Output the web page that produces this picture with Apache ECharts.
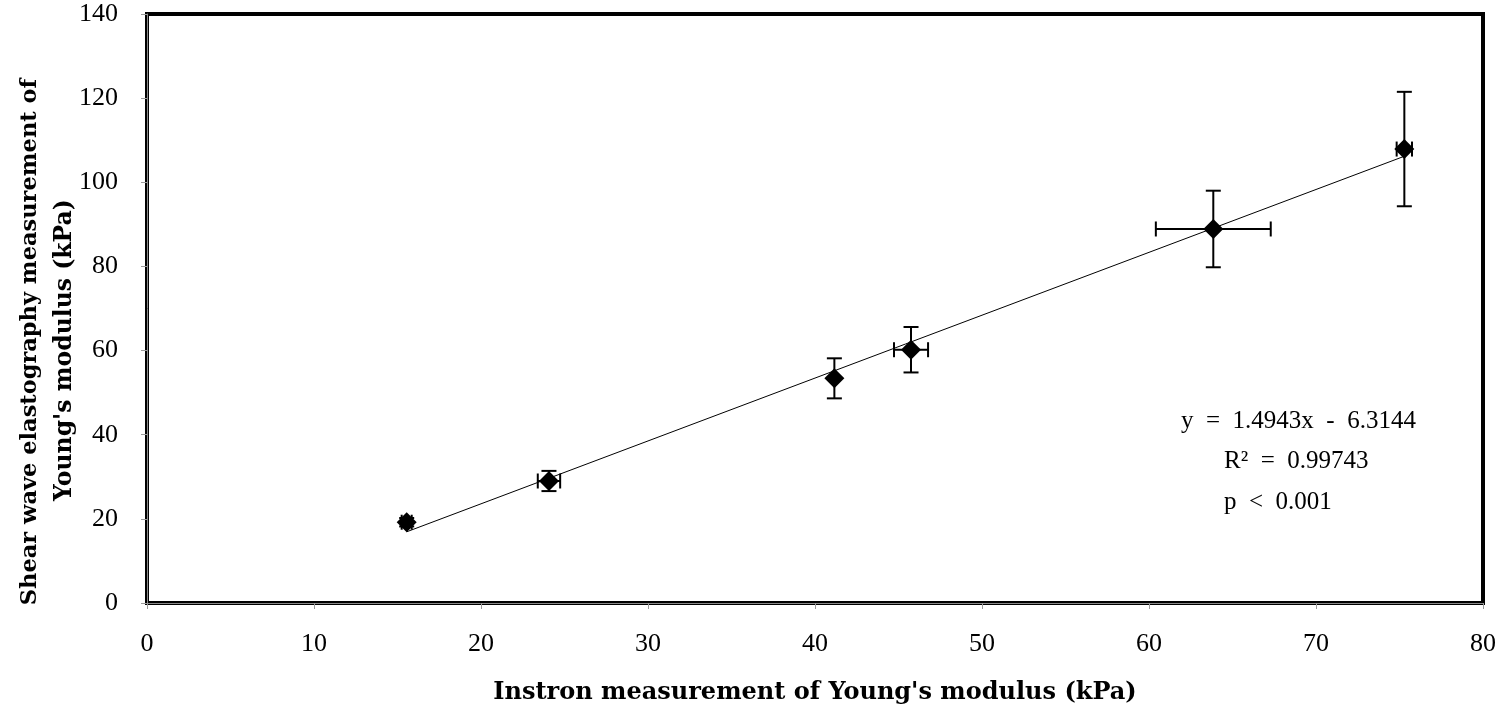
<!DOCTYPE html>
<html>
<head>
<meta charset="utf-8">
<script src="https://cdn.jsdelivr.net/npm/echarts@6/dist/echarts.min.js"></script>
<style>html,body{margin:0;padding:0;background:#fff;}#c{width:1502px;height:709px;}</style>
</head>
<body>
<div id="c"></div>
<script>
// Data
const xValues = [15.55, 24.07, 41.16, 45.75, 63.85, 75.29];
const yValues = [19.2, 29.0, 53.4, 60.2, 88.9, 107.9];
const xErr = [0.3, 0.67, 0, 1.02, 3.44, 0.46];
const yErr = [1.0, 2.4, 4.76, 5.4, 9.1, 13.6];
const slope = 1.4943, intercept = -6.3144;
const xTicks = [0, 10, 20, 30, 40, 50, 60, 70, 80];
const yTicks = [0, 20, 40, 60, 80, 100, 120, 140];
const annotation = ['y\u2002=\u20021.4943x\u2002-\u20026.3144', 'R²\u2002=\u20020.99743', 'p\u2002<\u20020.001'];
const xTitle = "Instron measurement of Young's modulus (kPa)";
const yTitle1 = 'Shear wave elastography measurement of';
const yTitle2 = "Young's modulus (kPa)";

const points = xValues.map((x, i) => [x, yValues[i]]);
const errData = xValues.map((x, i) => [x, yValues[i], xErr[i], yErr[i]]);
const xMin = Math.min(...xValues), xMax = Math.max(...xValues);
const trend = [[xMin, slope * xMin + intercept], [xMax, slope * xMax + intercept]];

const SERIF = '"Liberation Serif", "DejaVu Serif", serif';
const BOLDSERIF = '"DejaVu Serif", "Liberation Serif", serif';
const chart = echarts.init(document.getElementById('c'), null, {renderer: 'canvas'});

function renderErr(params, api) {
  const x = api.value(0), y = api.value(1), ex = api.value(2), ey = api.value(3);
  const c = api.coord([x, y]);
  const top = api.coord([x, y + ey]), bot = api.coord([x, y - ey]);
  const lft = api.coord([x - ex, y]), rgt = api.coord([x + ex, y]);
  const cap = 7.5;
  const st = {stroke: '#000', lineWidth: 2};
  const children = [];
  if (ey > 0) {
    children.push({type: 'line', shape: {x1: c[0], y1: top[1], x2: c[0], y2: bot[1]}, style: st});
    children.push({type: 'line', shape: {x1: c[0] - cap, y1: top[1], x2: c[0] + cap, y2: top[1]}, style: st});
    children.push({type: 'line', shape: {x1: c[0] - cap, y1: bot[1], x2: c[0] + cap, y2: bot[1]}, style: st});
  }
  if (ex > 0) {
    children.push({type: 'line', shape: {x1: lft[0], y1: c[1], x2: rgt[0], y2: c[1]}, style: st});
    children.push({type: 'line', shape: {x1: lft[0], y1: c[1] - cap, x2: lft[0], y2: c[1] + cap}, style: st});
    children.push({type: 'line', shape: {x1: rgt[0], y1: c[1] - cap, x2: rgt[0], y2: c[1] + cap}, style: st});
  }
  return {type: 'group', children: children};
}

chart.setOption({
  animation: false,
  backgroundColor: '#fff',
  grid: {left: 147, right: 19, top: 14, bottom: 106, containLabel: false, outerBoundsMode: 'none',
         show: true, borderColor: '#000', borderWidth: 4, backgroundColor: 'transparent'},
  xAxis: {
    type: 'value', min: 0, max: 80, interval: 10,
    name: xTitle, nameLocation: 'middle', nameGap: 78,
    nameTextStyle: {fontFamily: BOLDSERIF, fontWeight: 'bold', fontSize: 24, color: '#000'},
    axisLine: {show: true, lineStyle: {color: '#888', width: 1}},
    axisTick: {show: true, length: 6, lineStyle: {color: '#999'}},
    axisLabel: {fontFamily: SERIF, fontSize: 26, color: '#000', margin: 28},
    splitLine: {show: false}
  },
  yAxis: {
    type: 'value', min: 0, max: 140, interval: 20,
    axisLine: {show: true, lineStyle: {color: '#888', width: 1}},
    axisTick: {show: true, length: 6, lineStyle: {color: '#999'}},
    axisLabel: {fontFamily: SERIF, fontSize: 26, color: '#000', margin: 29, padding: [6, 0, 0, 0]},
    splitLine: {show: false}
  },
  graphic: [
    {type: 'text', x: 30, y: 342, rotation: Math.PI / 2,
     style: {text: yTitle1, font: 'bold 22.5px ' + BOLDSERIF, fill: '#000', textAlign: 'center', textVerticalAlign: 'middle'}},
    {type: 'text', x: 65, y: 350, rotation: Math.PI / 2,
     style: {text: yTitle2, font: 'bold 23.5px ' + BOLDSERIF, fill: '#000', textAlign: 'center', textVerticalAlign: 'middle'}},
    {type: 'text', x: 1181, y: 421,
     style: {text: annotation[0], font: '25px ' + SERIF, fill: '#000', textAlign: 'left', textVerticalAlign: 'middle'}},
    {type: 'text', x: 1224, y: 461,
     style: {text: annotation[1], font: '25px ' + SERIF, fill: '#000', textAlign: 'left', textVerticalAlign: 'middle'}},
    {type: 'text', x: 1224, y: 502,
     style: {text: annotation[2], font: '25px ' + SERIF, fill: '#000', textAlign: 'left', textVerticalAlign: 'middle'}}
  ],
  series: [
    {type: 'line', data: trend, symbol: 'none', lineStyle: {color: '#000', width: 1}, z: 2},
    {type: 'custom', renderItem: renderErr, data: errData, z: 3},
    {type: 'scatter', data: points, symbol: 'diamond', symbolSize: [20, 20], itemStyle: {color: '#000', opacity: 1}, z: 4}
  ]
});
</script>
</body>
</html>
